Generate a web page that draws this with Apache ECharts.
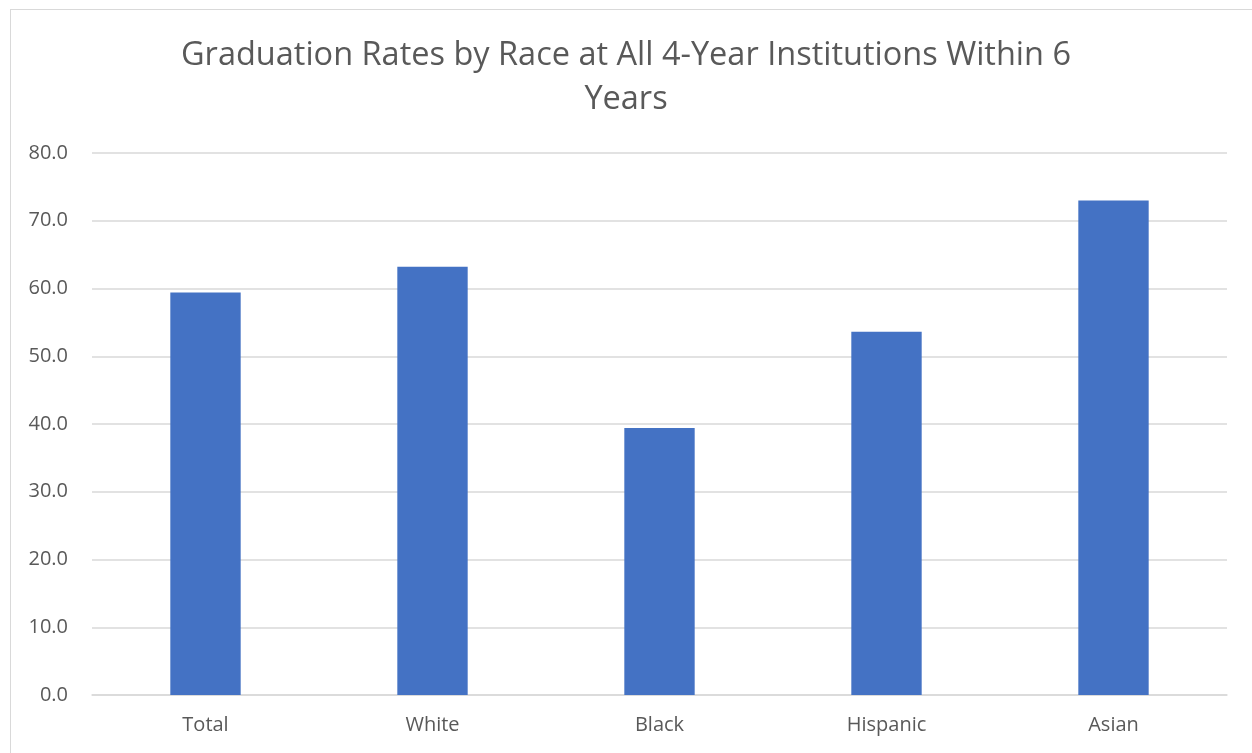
<!DOCTYPE html>
<html>
<head>
<meta charset="utf-8">
<script src="https://cdn.jsdelivr.net/npm/echarts@6/dist/echarts.min.js"></script>
<style>
  html, body { margin: 0; padding: 0; background: #fff; }
  #frame { position: absolute; left: 10px; top: 9px; width: 1250px; height: 750px; border: 1px solid #d9d9d9; }
  #chart { position: absolute; left: 0; top: 0; width: 1252px; height: 753px; }
</style>
</head>
<body>
<div id="frame"></div>
<div id="chart"></div>
<script>
const categories = ["Total", "White", "Black", "Hispanic", "Asian"];
const rates = [59.4, 63.2, 39.4, 53.6, 73.0];
const yTicks = { min: 0, max: 80, interval: 10 };

const chart = echarts.init(document.getElementById("chart"));
chart.setOption({
  animation: false,
  title: {
    text: "Graduation Rates by Race at All 4-Year Institutions Within 6\nYears",
    left: "center",
    top: 29,
    textStyle: {
      fontFamily: "Open Sans",
      fontWeight: "normal",
      fontSize: 32.5,
      lineHeight: 44,
      color: "#595959",
    },
  },
  grid: { left: 92, right: 25, top: 153, bottom: 58, containLabel: false },
  xAxis: {
    type: "category",
    data: categories,
    axisLine: { lineStyle: { color: "#d9d9d9", width: 1.5 } },
    axisTick: { show: false },
    axisLabel: { color: "#595959", fontSize: 20, fontFamily: "Open Sans", margin: 20 },
  },
  yAxis: {
    type: "value",
    min: yTicks.min,
    max: yTicks.max,
    interval: yTicks.interval,
    axisLine: { show: false },
    axisTick: { show: false },
    axisLabel: {
      color: "#595959",
      fontSize: 20,
      fontFamily: "Open Sans",
      margin: 24,
      formatter: (v) => v.toFixed(1),
    },
    splitLine: { lineStyle: { color: "#d9d9d9", width: 1.5 } },
  },
  series: [
    {
      type: "bar",
      data: rates,
      barWidth: "31%",
      itemStyle: { color: "#4472c4" },
    },
  ],
});
</script>
</body>
</html>
